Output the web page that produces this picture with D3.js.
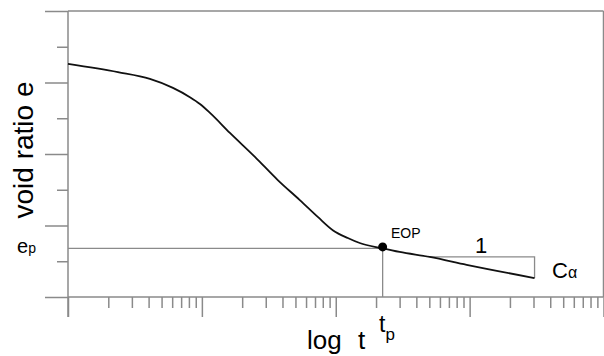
<!DOCTYPE html>
<html><head><meta charset="utf-8">
<script src="https://cdn.jsdelivr.net/npm/d3@7"></script>
<style>
html,body{margin:0;padding:0;background:#fff;}
svg{display:block;}
text{font-family:"Liberation Sans", Arial, sans-serif;fill:#000;}
</style></head>
<body>
<svg id="chart" width="604" height="356"></svg>
<script>
// ---- data ----
const timeT = [1, 2.36, 4.09, 6.08, 8.14, 9.67, 11.5, 16.2, 24.9, 36.9, 53.9, 73.4, 95, 123, 151, 224, 300, 503, 950, 3055];
const voidE = [1.252, 1.229, 1.210, 1.185, 1.159, 1.140, 1.115, 1.059, 0.992, 0.927, 0.871, 0.824, 0.787, 0.765, 0.751, 0.736, 0.726, 0.712, 0.690, 0.653];
const eopT = 224, eopE = 0.736;
const triStartT = 503, triEndT = 3055, triTopE = 0.712, triBottomE = 0.653;
const yTicks = [0.6, 0.7, 0.8, 0.9, 1.0, 1.1, 1.2, 1.3, 1.4];
const majorYTicks = [0.6, 0.8, 1.0, 1.2, 1.4];
const xDomain = [1, 10000];
const yDomain = [0.6, 1.4];

const svg = d3.select("#chart");
const axisColor = "#8a8a8a";

const x = d3.scaleLog().domain(xDomain).range([68, 603.5]);
const y = d3.scaleLinear().domain(yDomain).range([297, 11]);

// x ticks: all 1..9 per decade
const xTicks = [];
for (let d = 1; d < 10000; d *= 10) for (let k = 1; k < 10; k++) xTicks.push(d * k);
xTicks.push(10000);
const isMajorX = v => Math.abs(Math.log10(v) - Math.round(Math.log10(v))) < 1e-9;

// bottom axis
const gx = svg.append("g").attr("transform", `translate(0,${y(0.6)})`)
  .call(d3.axisBottom(x).tickValues(xTicks).tickFormat("").tickSizeOuter(0).tickSizeInner(11));
gx.select(".domain").remove();
gx.selectAll(".tick line").attr("stroke", axisColor).attr("stroke-width", 1.5)
  .attr("y2", d => isMajorX(d) ? 20 : 11);

// left axis
const gy = svg.append("g").attr("transform", `translate(${x(1)},0)`)
  .call(d3.axisLeft(y).tickValues(yTicks).tickFormat("").tickSizeOuter(0).tickSizeInner(11));
gy.select(".domain").remove();
gy.selectAll(".tick line").attr("stroke", axisColor).attr("stroke-width", 1.5)
  .attr("x2", d => majorYTicks.some(m => Math.abs(m - d) < 1e-9) ? -23 : -11);

// frame lines
const frame = svg.append("g").attr("stroke", axisColor).attr("stroke-width", 1.5).attr("fill", "none");
frame.append("line").attr("x1", x(1)).attr("x2", x(10000)).attr("y1", y(0.6)).attr("y2", y(0.6));
frame.append("line").attr("x1", x(1)).attr("x2", x(10000)).attr("y1", y(1.4)).attr("y2", y(1.4));
frame.append("line").attr("x1", x(1)).attr("x2", x(1)).attr("y1", y(1.4)).attr("y2", y(0.6) + 20);
frame.append("line").attr("x1", x(10000)).attr("x2", x(10000)).attr("y1", y(1.4)).attr("y2", y(0.6));

// construction lines
const cons = svg.append("g").attr("stroke", axisColor).attr("stroke-width", 1.3).attr("fill", "none");
cons.append("line").attr("x1", x(1)).attr("x2", x(eopT)).attr("y1", y(eopE)).attr("y2", y(eopE));
cons.append("line").attr("x1", x(eopT)).attr("x2", x(eopT)).attr("y1", y(eopE)).attr("y2", y(0.6));
cons.append("polyline").attr("points", [
  [x(triStartT), y(triTopE)], [x(triEndT), y(triTopE)], [x(triEndT), y(triBottomE)]
].map(p => p.join(",")).join(" "));

// curve
const pts = timeT.map((t, i) => [t, voidE[i]]);
svg.append("path").datum(pts)
  .attr("fill", "none").attr("stroke", "#111").attr("stroke-width", 1.8)
  .attr("d", d3.line().x(d => x(d[0])).y(d => y(d[1])).curve(d3.curveMonotoneX));

// EOP point
svg.append("circle").attr("cx", x(eopT)).attr("cy", y(eopE) - 1.5).attr("r", 4.5).attr("fill", "#000");

// texts
svg.append("text").attr("transform", `translate(33,150) rotate(-90)`)
  .attr("text-anchor", "middle").attr("font-size", 28).text("void ratio e");

const ep = svg.append("text").attr("x", 17).attr("y", 253).attr("font-size", 20);
ep.append("tspan").text("e");
ep.append("tspan").attr("font-size", 14).text("p");

svg.append("text").attr("x", 307).attr("y", 349).attr("font-size", 26).text("log");
svg.append("text").attr("x", 358).attr("y", 349).attr("font-size", 26).text("t");

const tp = svg.append("text").attr("x", 379).attr("y", 332).attr("font-size", 23);
tp.append("tspan").text("t");
tp.append("tspan").attr("font-size", 17).attr("dy", 8).text("p");

svg.append("text").attr("x", 391).attr("y", 238).attr("font-size", 14).text("EOP");
svg.append("text").attr("x", 481).attr("y", 253).attr("text-anchor", "middle").attr("font-size", 22).text("1");

const ca = svg.append("text").attr("x", 552).attr("y", 278).attr("font-size", 22);
ca.append("tspan").text("C");
ca.append("tspan").attr("font-size", 16).text("α");
</script>
</body></html>
